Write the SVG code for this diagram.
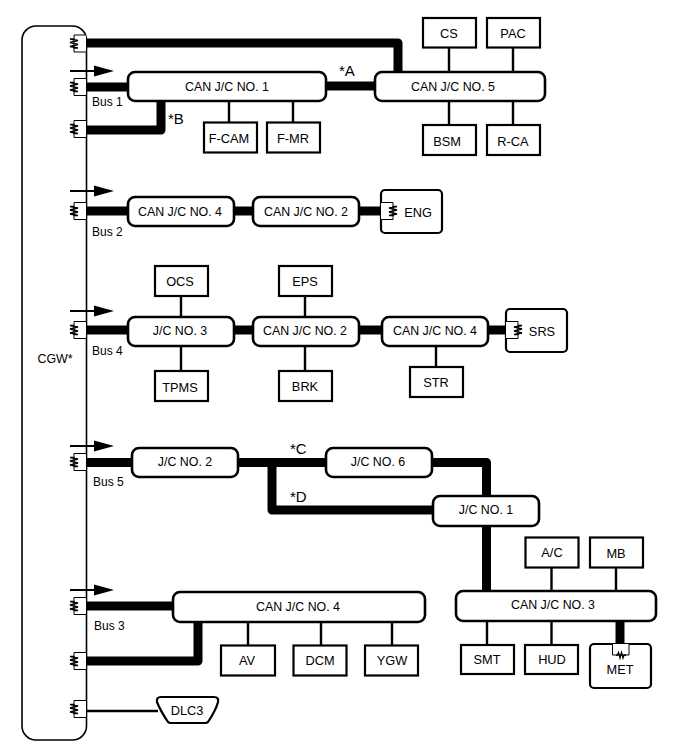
<svg xmlns="http://www.w3.org/2000/svg" width="688" height="755" viewBox="0 0 688 755">
<style>
text{font-family:"Liberation Sans",Arial,sans-serif;font-size:12.4px;fill:#000;text-anchor:middle;dominant-baseline:central}
.lab{font-size:12px;text-anchor:start}
.star{font-size:15px;text-anchor:start}
.big{font-size:12.8px}
.jc{fill:#fff;stroke:#000;stroke-width:2.6}
.ecu{fill:#fff;stroke:#000;stroke-width:2.2}
.cgw{fill:#fff;stroke:#000;stroke-width:1.6}
.bus{fill:none;stroke:#000;stroke-width:9;stroke-linejoin:round}
.thin{fill:none;stroke:#000;stroke-width:2.4}
.term{fill:#fff;stroke:#000;stroke-width:1}
.res{fill:none;stroke:#000;stroke-width:1.3}
</style>
<defs>
<g id="term">
<path class="term" d="M12 -8.500H0V8.500H12"/>
<path class="res" d="M0 -5V-4.500L-4 -4.500L4 -3L-4 -1L4 1L-4 3L4 4.500L0 4.500V5"/>
</g>
<g id="arrow">
<path d="M0 0H26" stroke="#000" stroke-width="2" fill="none"/>
<path d="M24 -5.500L44 0L24 5.500Z" fill="#000"/>
</g>
</defs>

<g id="CGW">
<rect class="cgw" x="22" y="26" width="64.500" height="714" rx="14"/>
<text x="55" y="359">CGW*</text>
</g>

<g id="connectors">
<path class="bus" d="M86 43H398V72"/>
<path class="bus" d="M86 87H128"/>
<path class="bus" d="M86 130H161V102"/>
<path class="bus" d="M326 86H375"/>
<path class="thin" d="M449 72V45M513 72V45M449 101V125M513 101V125M229 101V125M293 101V125"/>
<path class="bus" d="M86 211H128M234 211H253M359 211H381"/>
<path class="bus" d="M86 330H128M234 330H253M359 330H382M488 330H506"/>
<path class="thin" d="M181 296V317M181 346V372M305 296V317M305 346V372M436 346V367"/>
<path class="bus" d="M86 462.500H132M238 462.500H326M432 462.500H486.500V495M272 462.500V510H433M486.500 526V592"/>
<path class="bus" d="M86 606H173M86 661H198V622"/>
<path class="thin" d="M248 622V646M321 622V646M392 622V646M551.500 568V591M616 568V591M487 621V645M551.500 621V645"/>
<path class="bus" d="M620 621V645"/>
<path class="thin" d="M86 711H158"/>
</g>

<g id="bus-arrows">
<use href="#arrow" x="70" y="71"/>
<use href="#arrow" x="70" y="191"/>
<use href="#arrow" x="70" y="311"/>
<use href="#arrow" x="70" y="446"/>
<use href="#arrow" x="70" y="590"/>
</g>

<g id="terminators">
<use href="#term" x="74" y="43.500"/>
<use href="#term" x="74" y="87"/>
<use href="#term" x="74" y="129"/>
<use href="#term" x="74" y="211"/>
<use href="#term" x="74" y="330"/>
<use href="#term" x="74" y="462"/>
<use href="#term" x="74" y="606"/>
<use href="#term" x="74" y="661"/>
<use href="#term" x="74" y="709"/>
</g>

<g id="bus-labels">
<text class="lab" x="92" y="102">Bus 1</text>
<text class="lab" x="92" y="232">Bus 2</text>
<text class="lab" x="92" y="351">Bus 4</text>
<text class="lab" x="93" y="482">Bus 5</text>
<text class="lab" x="94" y="626">Bus 3</text>
<text class="star" x="339" y="70">*A</text>
<text class="star" x="168" y="118">*B</text>
<text class="star" x="290" y="448">*C</text>
<text class="star" x="290" y="496">*D</text>
</g>

<g id="jc-can1"><rect class="jc" x="128" y="72" width="198" height="29" rx="7"/><text x="227" y="87">CAN J/C NO. 1</text></g>
<g id="jc-can5"><rect class="jc" x="375" y="72" width="170" height="29" rx="7"/><text x="453" y="87">CAN J/C NO. 5</text></g>
<g id="cs"><rect class="ecu" x="423" y="18" width="53" height="29.500"/><text class="big" x="449" y="33">CS</text></g>
<g id="pac"><rect class="ecu" x="487" y="18" width="53" height="29.500"/><text class="big" x="513" y="33">PAC</text></g>
<g id="bsm"><rect class="ecu" x="423" y="125" width="53" height="30"/><text class="big" x="447" y="141">BSM</text></g>
<g id="r-ca"><rect class="ecu" x="487" y="125" width="53" height="30"/><text class="big" x="513" y="141">R-CA</text></g>
<g id="f-cam"><rect class="ecu" x="204" y="122.500" width="53" height="30"/><text class="big" x="229" y="138">F-CAM</text></g>
<g id="f-mr"><rect class="ecu" x="267" y="122.500" width="53" height="30"/><text class="big" x="293" y="138">F-MR</text></g>

<g id="jc-can4-b2"><rect class="jc" x="128" y="197" width="106" height="29" rx="7"/><text x="180" y="212">CAN J/C NO. 4</text></g>
<g id="jc-can2-b2"><rect class="jc" x="253" y="197" width="106" height="29" rx="7"/><text x="306" y="212">CAN J/C NO. 2</text></g>
<g id="eng">
<rect class="ecu" x="381" y="190" width="61" height="43" rx="4"/>
<use href="#term" x="393" y="211" transform="translate(786 0) scale(-1 1)"/>
<text class="big" x="418" y="212">ENG</text>
</g>

<g id="ocs"><rect class="ecu" x="155" y="266" width="53" height="30"/><text class="big" x="180" y="281">OCS</text></g>
<g id="eps"><rect class="ecu" x="279" y="266" width="53" height="30"/><text class="big" x="305" y="281">EPS</text></g>
<g id="jc-3-b4"><rect class="jc" x="128" y="317" width="106" height="29" rx="7"/><text x="180" y="331">J/C NO. 3</text></g>
<g id="jc-can2-b4"><rect class="jc" x="253" y="317" width="106" height="29" rx="7"/><text x="305" y="331">CAN J/C NO. 2</text></g>
<g id="jc-can4-b4"><rect class="jc" x="382" y="317" width="106" height="29" rx="7"/><text x="435" y="331">CAN J/C NO. 4</text></g>
<g id="srs">
<rect class="ecu" x="506" y="309" width="61" height="43" rx="4"/>
<use href="#term" x="518" y="330" transform="translate(1036 0) scale(-1 1)"/>
<text class="big" x="542" y="331">SRS</text>
</g>
<g id="tpms"><rect class="ecu" x="155" y="371" width="53" height="30"/><text class="big" x="180" y="387">TPMS</text></g>
<g id="brk"><rect class="ecu" x="279" y="371" width="53" height="30"/><text class="big" x="305" y="386">BRK</text></g>
<g id="str"><rect class="ecu" x="410" y="367" width="53" height="30"/><text class="big" x="436" y="382">STR</text></g>

<g id="jc-2-b5"><rect class="jc" x="132" y="448" width="106" height="29" rx="7"/><text x="185" y="462">J/C NO. 2</text></g>
<g id="jc-6"><rect class="jc" x="326" y="448" width="106" height="29" rx="7"/><text x="378" y="462">J/C NO. 6</text></g>
<g id="jc-1"><rect class="jc" x="433" y="496" width="106" height="30" rx="7"/><text x="486" y="510">J/C NO. 1</text></g>
<g id="ac"><rect class="ecu" x="525.500" y="537.500" width="53" height="30"/><text class="big" x="552" y="552">A/C</text></g>
<g id="mb"><rect class="ecu" x="590" y="537.500" width="53" height="30"/><text class="big" x="616" y="553">MB</text></g>
<g id="jc-can3"><rect class="jc" x="456" y="591" width="200" height="30" rx="7"/><text x="553" y="605">CAN J/C NO. 3</text></g>
<g id="smt"><rect class="ecu" x="461" y="645" width="53" height="29"/><text class="big" x="487" y="659">SMT</text></g>
<g id="hud"><rect class="ecu" x="525" y="645" width="53" height="29"/><text class="big" x="552" y="659">HUD</text></g>
<g id="met">
<rect class="ecu" x="590" y="644" width="61" height="44" rx="4"/>
<path class="term" d="M612.500 644V655H629V644"/>
<path class="res" d="M616 655H617.500L618.500 652.500L620 658L621.500 652.500L623 658L624 655H626"/>
<text class="big" x="620" y="669">MET</text>
</g>

<g id="jc-can4-b3"><rect class="jc" x="173" y="592" width="252" height="30" rx="7"/><text x="298" y="607">CAN J/C NO. 4</text></g>
<g id="av"><rect class="ecu" x="221" y="645.500" width="54" height="30"/><text class="big" x="247" y="660">AV</text></g>
<g id="dcm"><rect class="ecu" x="293.500" y="645.500" width="53" height="30"/><text class="big" x="320" y="660">DCM</text></g>
<g id="ygw"><rect class="ecu" x="365" y="645.500" width="53" height="30"/><text class="big" x="392" y="660">YGW</text></g>
<g id="dlc3">
<path class="ecu" d="M161 697H214Q219 697 218 702Q216 710 208 722Q207 723 205 723H171Q169 723 168 722Q160 710 157 702Q156 697 161 697Z"/>
<text class="big" x="187" y="710">DLC3</text>
</g>
</svg>
